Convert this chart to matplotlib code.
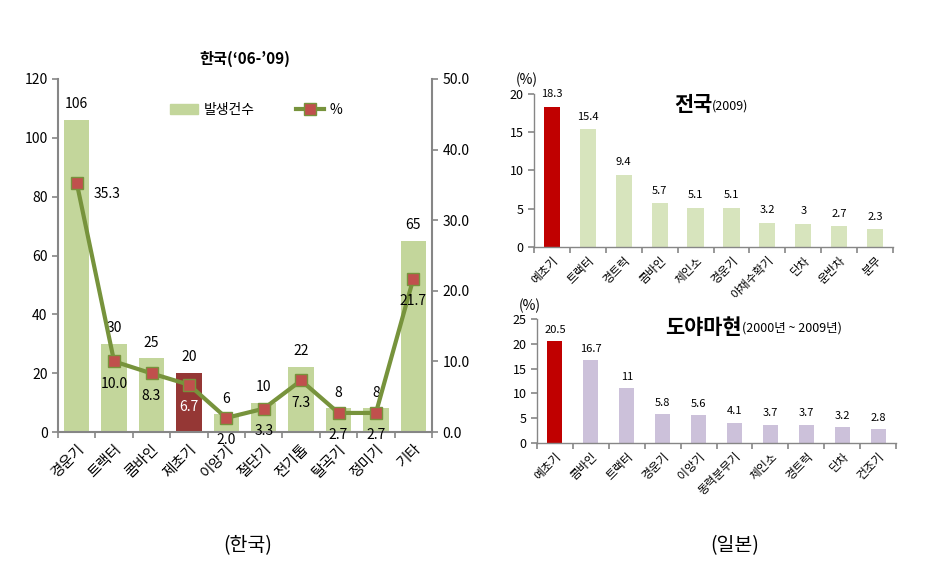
import numpy as np
import matplotlib
matplotlib.use("Agg")
import matplotlib.pyplot as plt
from matplotlib.lines import Line2D
from matplotlib.patches import Patch

plt.rcParams['font.family'] = ['Noto Sans CJK KR', 'DejaVu Sans']

# 한국 데이터
kr_cats = ['경운기', '트랙터', '콤바인', '제초기', '이앙기', '절단기', '전기톱', '탈곡기', '정미기', '기타']
kr_counts = [106, 30, 25, 20, 6, 10, 22, 8, 8, 65]
kr_pct = [35.3, 10.0, 8.3, 6.7, 2.0, 3.3, 7.3, 2.7, 2.7, 21.7]

# 일본 전국 (2009)
jp_cats = ['예초기', '트랙터', '경트럭', '콤바인', '체인소', '경운기', '야채수확기', '단차', '운반차', '분무']
jp_vals = [18.3, 15.4, 9.4, 5.7, 5.1, 5.1, 3.2, 3, 2.7, 2.3]
jp_labels = ['18.3', '15.4', '9.4', '5.7', '5.1', '5.1', '3.2', '3', '2.7', '2.3']

# 도야마현 (2000~2009)
ty_cats = ['예초기', '콤바인', '트랙터', '경운기', '이앙기', '동력분무기', '체인소', '경트럭', '단차', '건조기']
ty_vals = [20.5, 16.7, 11, 5.8, 5.6, 4.1, 3.7, 3.7, 3.2, 2.8]
ty_labels = ['20.5', '16.7', '11', '5.8', '5.6', '4.1', '3.7', '3.7', '3.2', '2.8']

W, H = 930, 565
fig = plt.figure(figsize=(9.3, 5.65), dpi=100)

def box(x0, y0, x1, y1):
    return [x0 / W, 1 - y1 / H, (x1 - x0) / W, (y1 - y0) / H]

gray = '#868686'

def style_axis(ax, lw=1.5):
    for s in ['top', 'right']:
        ax.spines[s].set_visible(False)
    ax.spines['left'].set_color(gray)
    ax.spines['bottom'].set_color(gray)
    ax.spines['left'].set_linewidth(lw)
    ax.spines['bottom'].set_linewidth(lw)
    ax.tick_params(axis='y', colors=gray, labelcolor='black', length=4, width=1.2)
    n = 10
    ax.set_xticks(np.arange(n))
    ax.set_xticks(np.arange(n + 1) - 0.5, minor=True)
    ax.tick_params(axis='x', which='major', length=0, pad=7)
    ax.tick_params(axis='x', which='minor', length=4, width=1.2, colors=gray)
    ax.set_xlim(-0.5, n - 0.5)

# ---- 한국 ----
ax = fig.add_axes(box(58, 79, 432, 432))
x = np.arange(len(kr_cats))
colors = ['#C3D69B'] * len(kr_cats)
colors[3] = '#953735'
ax.bar(x, kr_counts, width=0.68, color=colors, zorder=1)
ax.set_ylim(0, 120)
ax.set_yticks(np.arange(0, 121, 20))
style_axis(ax)
ax.set_xticklabels(kr_cats, rotation=45, ha='right', rotation_mode='anchor', fontsize=10.5)
ax.tick_params(axis='y', labelsize=10)
for i, v in enumerate(kr_counts):
    ax.text(i, v + 3, str(v), ha='center', va='bottom', fontsize=10)

ax2 = ax.twinx()
ax2.plot(x, kr_pct, color='#77933C', lw=3, marker='s', ms=8,
         markerfacecolor='#C0504D', markeredgecolor='#77933C', markeredgewidth=1, zorder=3)
ax2.set_ylim(0, 50)
ax2.set_yticks(np.arange(0, 51, 10))
ax2.set_yticklabels(['%.1f' % t for t in np.arange(0, 51, 10)])
for s in ['top', 'left', 'bottom']:
    ax2.spines[s].set_visible(False)
ax2.spines['right'].set_color(gray)
ax2.spines['right'].set_linewidth(1.5)
ax2.tick_params(axis='y', colors=gray, labelcolor='black', length=4, width=1.2, labelsize=10)
for i, v in enumerate(kr_pct):
    if i == 0:
        ax2.text(i + 0.45, v - 1.6, '%.1f' % v, ha='left', va='center', fontsize=10)
    else:
        ax2.text(i, v - 2.2, '%.1f' % v, ha='center', va='top', fontsize=10,
                 color='white' if i == 3 else 'black')
ax.set_title("한국(\u201806-\u201909)", fontsize=11, fontweight='bold', pad=11)
handles = [Patch(color='#C3D69B'),
           Line2D([], [], color='#77933C', lw=3, marker='s', ms=8,
                  markerfacecolor='#C0504D', markeredgecolor='#77933C')]
ax.legend(handles, ['발생건수', '%'], loc='center', bbox_to_anchor=(0.53, 0.912),
          ncol=2, frameon=False, fontsize=10, columnspacing=3.0, handlelength=2.0,
          handletextpad=0.4)

# ---- 전국 ----
axj = fig.add_axes(box(534, 94, 893, 247))
colors = ['#D7E4BD'] * len(jp_cats)
colors[0] = '#C00000'
axj.bar(np.arange(len(jp_cats)), jp_vals, width=0.45, color=colors)
axj.set_ylim(0, 20)
axj.set_yticks(np.arange(0, 21, 5))
style_axis(axj, lw=1)
axj.tick_params(axis='x', which='major', pad=5)
axj.set_xticklabels(jp_cats, rotation=45, ha='right', rotation_mode='anchor', fontsize=8.5)
axj.tick_params(axis='y', labelsize=9)
for i, (v, t) in enumerate(zip(jp_vals, jp_labels)):
    axj.text(i, v + 1.0, t, ha='center', va='bottom', fontsize=8)
axj.text(-0.02, 1.09, '(%)', transform=axj.transAxes, ha='center', va='center', fontsize=10)
axj.text(0.496, 0.93, '전국', transform=axj.transAxes, ha='right', va='center',
         fontsize=15, fontweight='bold')
axj.text(0.496, 0.92, '(2009)', transform=axj.transAxes, ha='left', va='center', fontsize=9)

# ---- 도야마현 ----
axt = fig.add_axes(box(537, 319, 896, 443))
colors = ['#CCC1DA'] * len(ty_cats)
colors[0] = '#C00000'
axt.bar(np.arange(len(ty_cats)), ty_vals, width=0.42, color=colors)
axt.set_ylim(0, 25)
axt.set_yticks(np.arange(0, 26, 5))
style_axis(axt, lw=1)
axt.tick_params(axis='x', which='major', pad=5)
axt.set_xticklabels(ty_cats, rotation=45, ha='right', rotation_mode='anchor', fontsize=8.5)
axt.tick_params(axis='y', labelsize=9)
for i, (v, t) in enumerate(zip(ty_vals, ty_labels)):
    axt.text(i, v + 1.3, t, ha='center', va='bottom', fontsize=8)
axt.text(-0.02, 1.105, '(%)', transform=axt.transAxes, ha='center', va='center', fontsize=10)
axt.text(0.571, 0.935, '도야마현', transform=axt.transAxes, ha='right', va='center',
         fontsize=15, fontweight='bold')
axt.text(0.571, 0.925, '(2000년 ~ 2009년)', transform=axt.transAxes, ha='left', va='center', fontsize=9)

fig.text(248 / W, 1 - 546 / H, '(한국)', ha='center', va='center', fontsize=14)
fig.text(735 / W, 1 - 546 / H, '(일본)', ha='center', va='center', fontsize=14)

fig.savefig('out.png', dpi=100)
